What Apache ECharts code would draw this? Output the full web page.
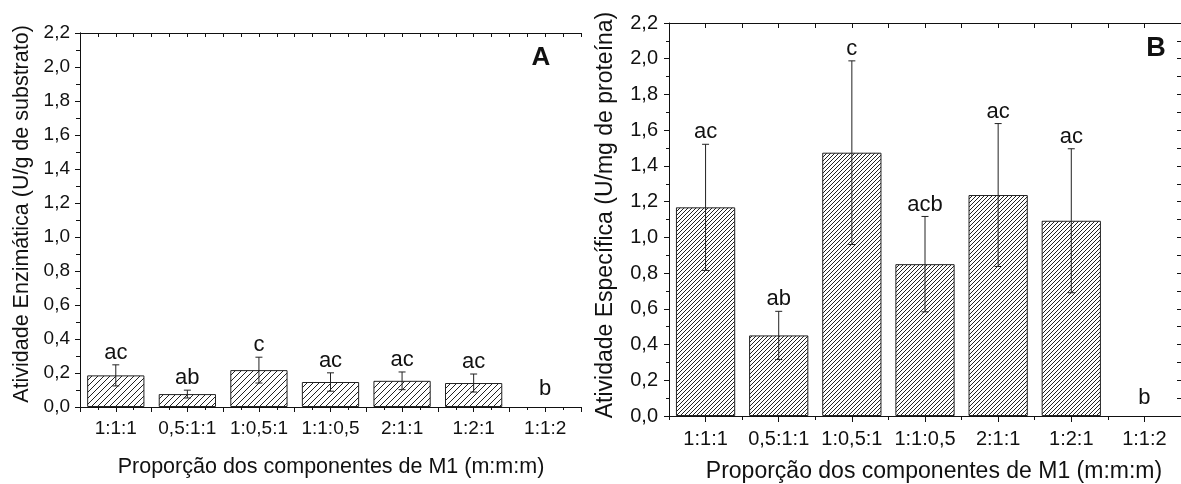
<!DOCTYPE html>
<html>
<head>
<meta charset="utf-8">
<script src="https://cdn.jsdelivr.net/npm/echarts@6/dist/echarts.min.js"></script>
<style>html,body{margin:0;padding:0;background:#fff}#c{width:1181px;height:484px}</style>
</head>
<body>
<div id="c"></div>
<script>
const categories = ['1:1:1', '0,5:1:1', '1:0,5:1', '1:1:0,5', '2:1:1', '1:2:1', '1:1:2'];
const valuesA = [0.186, 0.076, 0.217, 0.147, 0.154, 0.141, 0];
const errorsA = [0.062, 0.023, 0.076, 0.054, 0.052, 0.053, 0];
const lettersA = ['ac', 'ab', 'c', 'ac', 'ac', 'ac', 'b'];
const valuesB = [1.168, 0.451, 1.474, 0.850, 1.237, 1.093, 0];
const errorsB = [0.353, 0.135, 0.514, 0.267, 0.400, 0.403, 0];
const lettersB = ['ac', 'ab', 'c', 'acb', 'ac', 'ac', 'b'];
const yMin = 0, yMax = 2.2, yStep = 0.2;
const titleYA = 'Atividade Enzimática (U/g de substrato)';
const titleYB = 'Atividade Específica (U/mg de proteína)';
const titleX = 'Proporção dos componentes de M1 (m:m:m)';

const FONT = '"Liberation Sans", Arial, sans-serif';
const INK = '#111';

function hatch(period) {
  const c = document.createElement('canvas');
  c.width = period; c.height = period;
  const g = c.getContext('2d');
  g.fillStyle = '#fff'; g.fillRect(0, 0, period, period);
  g.strokeStyle = '#222'; g.lineWidth = 1;
  g.beginPath();
  g.moveTo(0, period); g.lineTo(period, 0);
  g.moveTo(-1, 1); g.lineTo(1, -1);
  g.moveTo(period - 1, period + 1); g.lineTo(period + 1, period - 1);
  g.stroke();
  return c;
}

const fmt = v => v.toFixed(1).replace('.', ',');

function barData(vals) {
  return vals.map(v => v === 0 ? { value: v, itemStyle: { borderWidth: 0, color: 'rgba(0,0,0,0)' } } : v);
}

function errSeries(xi, yi, vals, errs, letters, fs) {
  return {
    type: 'custom', xAxisIndex: xi, yAxisIndex: yi, z: 5,
    data: vals.map((v, i) => [i, v, errs[i]]),
    renderItem: function (params, api) {
      const i = api.value(0), v = api.value(1), e = api.value(2);
      const children = [];
      let tx, ty;
      if (e > 0) {
        const t = api.coord([i, v + e]), b = api.coord([i, v - e]);
        const st = { stroke: '#222', lineWidth: 1 };
        children.push({ type: 'line', shape: { x1: t[0], y1: t[1], x2: b[0], y2: b[1] }, style: st });
        children.push({ type: 'line', shape: { x1: t[0] - 3.5, y1: t[1], x2: t[0] + 3.5, y2: t[1] }, style: st });
        children.push({ type: 'line', shape: { x1: b[0] - 3.5, y1: b[1], x2: b[0] + 3.5, y2: b[1] }, style: st });
        tx = t[0]; ty = t[1] - 12;
      } else {
        const z = api.coord([i, 0]);
        tx = z[0]; ty = z[1] - 18;
      }
      children.push({ type: 'text', style: { text: letters[params.dataIndex], x: tx, y: ty, align: 'center', verticalAlign: 'middle', font: fs + 'px ' + FONT, fill: INK } });
      return { type: 'group', children: children };
    }
  };
}

function catAxis(grid, labels, labelSize, margin, tickLen, align) {
  return {
    type: 'category', gridIndex: grid, position: 'bottom', data: categories,
    boundaryGap: true,
    axisLine: { show: labels, lineStyle: { color: INK, width: 1 } },
    axisTick: { show: true, alignWithLabel: align, length: tickLen, lineStyle: { color: INK } },
    axisLabel: { show: labels, interval: 0, fontSize: labelSize, fontFamily: FONT, color: INK, margin: margin },
    splitLine: { show: false }
  };
}
function tickAxis(grid, pos, max, inside, len, line) {
  return {
    type: 'value', gridIndex: grid, position: pos, min: 0, max: max, interval: 1,
    axisLine: { show: line, onZero: false, lineStyle: { color: INK, width: 1 } },
    axisTick: { show: true, inside: inside, length: len, lineStyle: { color: INK } },
    axisLabel: { show: false }, splitLine: { show: false }
  };
}
function yLeft(grid, fs, margin) {
  return {
    type: 'value', gridIndex: grid, position: 'left', min: yMin, max: yMax, interval: yStep,
    axisLine: { show: true, lineStyle: { color: INK, width: 1 } },
    axisTick: { show: true, length: 5, lineStyle: { color: INK } },
    minorTick: { show: true, splitNumber: 2, length: 3, lineStyle: { color: INK } },
    axisLabel: { fontSize: fs, fontFamily: FONT, color: INK, margin: margin, formatter: fmt },
    splitLine: { show: false }
  };
}
function yRight(grid) {
  return {
    type: 'value', gridIndex: grid, position: 'right', min: yMin, max: yMax, interval: yStep / 2,
    axisLine: { show: true, lineStyle: { color: INK, width: 1 } },
    axisTick: { show: true, inside: true, length: 4, lineStyle: { color: INK } },
    axisLabel: { show: false }, splitLine: { show: false }
  };
}

const chart = echarts.init(document.getElementById('c'), null, { renderer: 'canvas' });
chart.setOption({
  backgroundColor: '#fff',
  animation: false,
  grid: [
    { left: 80, top: 33, width: 501, height: 374 },
    { left: 669, top: 23, width: 520, height: 393 }
  ],
  xAxis: [
    catAxis(0, true, 19, 12, 5, true),
    catAxis(0, false, 19, 12, 5, false),
    tickAxis(0, 'bottom', 28, false, 3, false),
    tickAxis(0, 'top', 28, true, 4, true),
    catAxis(1, true, 20, 13, 6, true),
    catAxis(1, false, 20, 13, 4, false),
    tickAxis(1, 'top', 14, true, 5, true)
  ],
  yAxis: [yLeft(0, 19, 10), yRight(0), yLeft(1, 20, 11), yRight(1)],
  series: [
    { type: 'bar', xAxisIndex: 0, yAxisIndex: 0, data: barData(valuesA), barWidth: '80%',
      itemStyle: { color: { image: hatch(6), repeat: 'repeat' }, borderColor: '#222', borderWidth: 1 } },
    errSeries(0, 0, valuesA, errorsA, lettersA, 22),
    { type: 'bar', xAxisIndex: 4, yAxisIndex: 2, data: barData(valuesB), barWidth: '81%',
      itemStyle: { color: { image: hatch(4), repeat: 'repeat' }, borderColor: '#222', borderWidth: 1 } },
    errSeries(4, 2, valuesB, errorsB, lettersB, 22)
  ],
  graphic: [
    { type: 'text', x: 22, y: 214, rotation: Math.PI / 2, style: { text: titleYA, font: '21.5px ' + FONT, fill: INK, align: 'center', verticalAlign: 'middle' } },
    { type: 'text', x: 606, y: 215, rotation: Math.PI / 2, style: { text: titleYB, font: '23px ' + FONT, fill: INK, align: 'center', verticalAlign: 'middle' } },
    { type: 'text', x: 331, y: 467, style: { text: titleX, font: '21.5px ' + FONT, fill: INK, align: 'center', verticalAlign: 'middle' } },
    { type: 'text', x: 934, y: 472, style: { text: titleX, font: '23px ' + FONT, fill: INK, align: 'center', verticalAlign: 'middle' } },
    { type: 'text', x: 541, y: 58, style: { text: 'A', font: 'bold 26px ' + FONT, fill: INK, align: 'center', verticalAlign: 'middle' } },
    { type: 'text', x: 1156, y: 49, style: { text: 'B', font: 'bold 27px ' + FONT, fill: INK, align: 'center', verticalAlign: 'middle' } }
  ]
});
</script>
</body>
</html>
